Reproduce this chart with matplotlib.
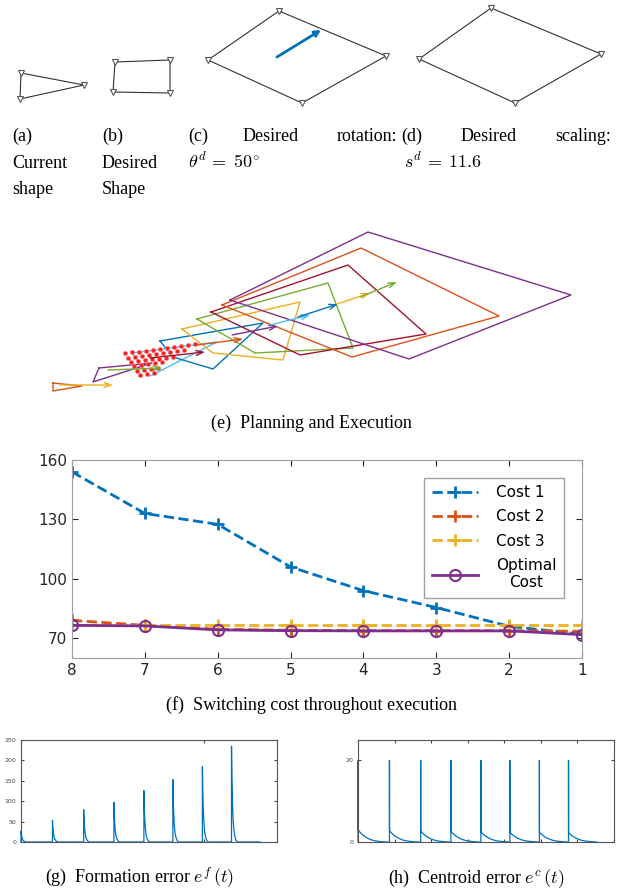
import matplotlib.pyplot as plt

plt.rcParams['mathtext.fontset'] = 'cm'
plt.rcParams['font.family'] = ['DejaVu Sans']

# MATLAB default colour order
c_blue = '#0072BD'
c_orange = '#D95319'
c_yellow = '#EDB120'
c_purple = '#7E2F8E'
c_green = '#77AC30'
c_lblue = '#4DBEEE'
c_dred = '#A2142F'

# ---- (a)-(d): shapes, in picture pixels ----
cur_x = [21, 84, 20]
cur_y = [73, 85, 99]
des_x = [115, 170, 170, 113]
des_y = [62, 60, 93, 92]
rot_x = [279, 386, 302, 208]
rot_y = [11, 56, 103, 60]
rot_arrow = [(277, 57), (321, 30)]
scl_x = [491, 601, 515, 419]
scl_y = [8, 54, 103, 59]

# ---- (e): planned shapes and centroid moves ----
plan_colors = [c_orange, c_purple, c_lblue, c_blue, c_yellow, c_green, c_dred, c_orange, c_purple]
plan_x = [[53, 82, 53], [99, 152, 93], [132, 217, 150], [160, 263, 213, 173],
          [182, 300, 283, 213], [197, 328, 353, 255], [211, 348, 426, 300],
          [222, 361, 499, 352], [230, 368, 571, 409]]
plan_y = [[383, 386, 391], [368, 363, 382], [353, 342, 376], [341, 323, 369, 357],
          [329, 302, 360, 353], [319, 283, 348, 353], [312, 265, 334, 355],
          [305, 248, 316, 357], [300, 232, 295, 359]]
move_colors = [c_yellow, c_green, c_dred, c_orange, c_purple, c_lblue, c_blue, c_yellow, c_green]
move_x0 = [60, 108, 150, 197, 232, 270, 298, 337, 360]
move_y0 = [385, 370, 358, 345, 335, 325, 317, 304, 297]
move_x1 = [113, 162, 205, 243, 278, 310, 338, 370, 397]
move_y1 = [385, 368, 352, 339, 326, 315, 304, 293, 282]
grid_x = [125, 132, 139, 146, 153, 160, 167, 174, 181, 188, 195,
          128, 135, 142, 149, 156, 163, 170, 177, 184,
          131, 138, 145, 152, 159, 166, 173,
          134, 141, 148, 155, 162,
          137, 144, 151, 158,
          140, 147, 154]
grid_y = [353, 352, 351.5, 351, 349.5, 349, 348, 347, 346, 345, 344,
          357.5, 356.6, 355.8, 355, 354, 353, 352, 351, 350,
          362, 361, 360, 359, 358.5, 357.5, 356.5,
          366, 365, 364, 363, 362,
          370.5, 369.5, 368.5, 367.5,
          375, 374, 373]

# ---- (f): switching cost ----
switch_steps = [8, 7, 6, 5, 4, 3, 2, 1]
cost1 = [154, 133, 127.5, 106, 94, 85.5, 76, 72]
cost2 = [79, 76.5, 74.5, 74, 73.8, 73.8, 73.8, 73.5]
cost3 = [76.5, 76.5, 76.5, 76.5, 76.5, 76.5, 76.5, 76.5]
cost_opt = [76.5, 76.2, 74.2, 73.8, 73.7, 73.7, 73.7, 71.8]

# ---- (g),(h): error traces ----
spike_t = [0, 430, 857, 1270, 1680, 2076, 2480, 2878]
t_end = 3270
form_peak = [27, 53, 79, 97, 126, 153, 185, 235]
form_dt = [0, 5, 10, 20, 30, 45, 60, 80]
form_shape = [1.0, 0.7, 0.5, 0.27, 0.14, 0.06, 0.02, 0.0]
cent_peak = 20
cent_start = [3.0, 2.8, 2.7, 2.6, 2.5, 2.4, 2.4, 2.3]
cent_dt = [1, 20, 40, 70, 100, 140, 180, 230, 300, 380]
cent_shape = [1.0, 0.85, 0.72, 0.55, 0.42, 0.28, 0.18, 0.1, 0.04, 0.0]

W, H = 633, 890
fig = plt.figure(figsize=(W / 100, H / 100), dpi=100)

ax0 = fig.add_axes([0, 0, 1, 1])
ax0.set_xlim(0, W)
ax0.set_ylim(H, 0)
ax0.axis('off')

# (a)-(d)
for xs, ys in [(cur_x, cur_y), (des_x, des_y), (rot_x, rot_y), (scl_x, scl_y)]:
    ax0.plot(xs + xs[:1], ys + ys[:1], color='#333333', lw=0.8)
    ax0.plot(xs, ys, 'v', ms=5, mfc='white', mec='#555555', mew=0.8)
ax0.annotate('', xy=rot_arrow[1], xytext=rot_arrow[0],
             arrowprops=dict(arrowstyle='-|>,head_length=0.35,head_width=0.18',
                             color=c_blue, lw=2, shrinkA=0, shrinkB=0))

serif = 'Liberation Serif'
fs = 13
top_words = [(12, 141, '(a)', 'left'), (102, 141, '(b)', 'left'), (188, 141, '(c)', 'left'),
             (243, 141, 'Desired', 'left'), (337, 141, 'rotation:', 'left'),
             (401, 141, '(d)', 'left'), (461, 141, 'Desired', 'left'),
             (611, 141, 'scaling:', 'right'),
             (12, 168, 'Current', 'left'), (102, 168, 'Desired', 'left'),
             (12, 194, 'shape', 'left'), (102, 194, 'Shape', 'left')]
for x, y, s, ha in top_words:
    ax0.text(x, y, s, ha=ha, va='baseline', family=serif, size=fs)
ax0.text(188, 168, r'$\theta^d\,=\;50^{\circ}$', ha='left', va='baseline', size=fs)
ax0.text(404, 168, r'$s^d\,=\;11.6$', ha='left', va='baseline', size=fs)

# (e)
for c, xs, ys in zip(plan_colors, plan_x, plan_y):
    ax0.plot(xs + xs[:1], ys + ys[:1], color=c, lw=1.0)
ax0.plot(grid_x, grid_y, 'o', ms=3, mfc='#ff1a1a', mec='#ff8080', mew=0.5)
for c, x0, y0, x1, y1 in zip(move_colors, move_x0, move_y0, move_x1, move_y1):
    ax0.annotate('', xy=(x1, y1), xytext=(x0, y0),
                 arrowprops=dict(arrowstyle='->,head_length=0.5,head_width=0.18',
                                 color=c, lw=1.0, shrinkA=0, shrinkB=0))

ax0.text(311, 423, '(e)  Planning and Execution', ha='center', va='center', family=serif, size=fs)
ax0.text(311, 705, '(f)  Switching cost throughout execution', ha='center', va='center',
         family=serif, size=fs)
ax0.text(140, 884, r'(g)  Formation error $e^f\,(t)$', ha='center', va='baseline', family=serif, size=fs)
ax0.text(476, 883, r'(h)  Centroid error $e^c\,(t)$', ha='center', va='baseline', family=serif, size=fs)

# (f)
axf = fig.add_axes([72 / W, 1 - 658 / H, 510 / W, 198 / H])
axf.plot(switch_steps, cost1, '--+', color=c_blue, lw=2, ms=9, mew=2, label='Cost 1')
axf.plot(switch_steps, cost2, '--+', color=c_orange, lw=2, ms=9, mew=2, label='Cost 2')
axf.plot(switch_steps, cost3, '--+', color=c_yellow, lw=2, ms=9, mew=2, label='Cost 3')
axf.plot(switch_steps, cost_opt, '-o', color=c_purple, lw=2, ms=8, mfc='none', mew=1.5,
         label='Optimal\nCost')
axf.set_xlim(8, 1)
axf.set_ylim(60, 160)
axf.set_xticks(switch_steps)
axf.set_yticks([70, 100, 130, 160])
axf.tick_params(direction='in', top=True, right=True, labelsize=11, colors='#262626',
                length=4)
for sp in axf.spines.values():
    sp.set_color('#a0a0a0')
leg = axf.legend(loc='upper right', bbox_to_anchor=(0.98, 0.95), fontsize=11,
                 handlelength=3, fancybox=False, edgecolor='#a0a0a0', framealpha=1,
                 borderpad=0.5, labelspacing=0.6, handletextpad=1.2)
for t in leg.get_texts():
    t.set_ha('center')

# (g) and (h)
def small_axes(left):
    ax = fig.add_axes([left / W, 1 - 842 / H, 256 / W, 102 / H])
    ax.set_xlim(0, 3500)
    ax.tick_params(direction='in', top=True, right=True, labelsize=4.5, colors='#444444',
                   length=2.5, labelbottom=False, width=0.8)
    for sp in ax.spines.values():
        sp.set_color('#555555')
    return ax

axg = small_axes(21)
gt, gv = [], []
for t0, pk in zip(spike_t, form_peak):
    gt.append(t0)
    gv.append(0)
    for dt, s in zip(form_dt, form_shape):
        gt.append(t0 + dt)
        gv.append(pk * s)
gt.append(t_end)
gv.append(0)
axg.plot(gt, gv, color=c_blue, lw=0.9, clip_on=False)
axg.set_ylim(0, 250)
axg.set_yticks([0, 50, 100, 150, 200, 250])
axg.set_xticks([0, 2500, 3500])

axh = small_axes(358)
ht, hv = [], []
for t0, st in zip(spike_t, cent_start):
    ht += [t0, t0]
    hv += [0, cent_peak]
    for dt, s in zip(cent_dt, cent_shape):
        ht.append(t0 + dt)
        hv.append(st * s)
ht.append(t_end)
hv.append(0)
axh.plot(ht, hv, color=c_blue, lw=0.9, clip_on=False)
axh.set_ylim(0, 25)
axh.set_yticks([0, 20])
axh.set_xticks([0, 500, 1000, 1500, 2000, 2500, 3000, 3500])

fig.savefig('out.png', dpi=100)
